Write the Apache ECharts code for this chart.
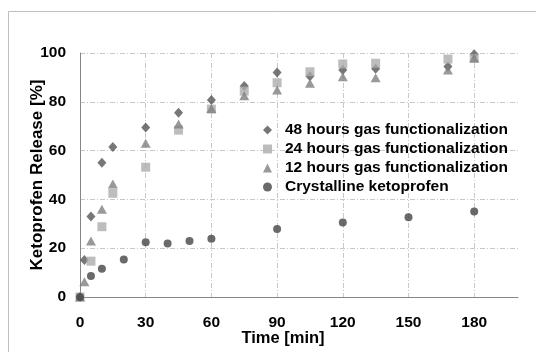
<!DOCTYPE html>
<html>
<head>
<meta charset="utf-8">
<script src="https://cdn.jsdelivr.net/npm/echarts@6/dist/echarts.min.js"></script>
<style>
  html, body { margin: 0; padding: 0; background: #fff; }
  #chart { width: 536px; height: 352px; }
</style>
</head>
<body>
<div id="chart"></div>
<script>
// sampling times [min] and release [%]
const t48 = [0, 2, 5, 10, 15, 30, 45, 60, 75, 90, 105, 120, 135, 168, 180];
const v48 = [0, 15.2, 33, 55, 61.5, 69.5, 75.5, 80.7, 86.5, 92, 90.5, 93, 93.5, 94.5, 99.5];

const t24 = [0, 5, 10, 15, 30, 45, 60, 75, 90, 105, 120, 135, 168, 180];
const v24 = [0, 14.7, 28.8, 42.5, 53.2, 68.4, 77, 84.4, 87.8, 92.3, 95.5, 95.8, 97.5, 97.8];

const t12 = [0, 2, 5, 10, 15, 30, 45, 60, 75, 90, 105, 120, 135, 168, 180];
const v12 = [0, 6.3, 23, 36, 46.3, 63, 70.9, 77.3, 82.5, 84.8, 87.6, 90.3, 89.9, 93, 98];

const tCr = [0, 5, 10, 20, 30, 40, 50, 60, 90, 120, 150, 180];
const vCr = [0, 8.6, 11.6, 15.4, 22.4, 21.9, 23, 23.9, 27.9, 30.5, 32.7, 35];

const seriesNames = [
  '48 hours gas functionalization',
  '24 hours gas functionalization',
  '12 hours gas functionalization',
  'Crystalline ketoprofen'
];

const pairs = (xs, ys) => xs.map((x, i) => [x, ys[i]]);

const chart = echarts.init(document.getElementById('chart'));

const gridLine = { color: '#c8c8c8', width: 1, type: [5, 2, 1, 2] };
const labelFont = { color: '#000', fontWeight: 'bold', fontSize: 15.5, fontFamily: 'Liberation Sans, Arial' };

chart.setOption({
  animation: false,
  grid: { left: 80, right: 18, top: 53, bottom: 55, containLabel: false },
  graphic: [
    { type: 'line', shape: { x1: 8.5, y1: 11.5, x2: 536, y2: 11.5 }, style: { stroke: '#bfbfbf', lineWidth: 1 } },
    { type: 'line', shape: { x1: 8.5, y1: 11.5, x2: 8.5, y2: 352 }, style: { stroke: '#bfbfbf', lineWidth: 1 } }
  ],
  legend: {
    orient: 'vertical',
    left: 263,
    top: 122,
    padding: 0,
    itemGap: 3,
    itemWidth: 9,
    itemHeight: 9,
    textStyle: { color: '#000', fontWeight: 'bold', fontSize: 15.5, fontFamily: 'Liberation Sans, Arial', padding: [0, 0, 0, 8] },
    data: seriesNames
  },
  xAxis: {
    type: 'value',
    min: 0,
    max: 200,
    interval: 30,
    name: 'Time [min]',
    nameLocation: 'middle',
    nameGap: 33,
    nameMoveOverlap: false,
    nameTextStyle: { color: '#000', fontWeight: 'bold', fontSize: 16.5, fontFamily: 'Liberation Sans, Arial', padding: [0, 32, 0, 0] },
    axisLine: { lineStyle: { color: '#868686', width: 1 } },
    axisTick: { show: false },
    axisLabel: Object.assign({ margin: 18, showMaxLabel: false }, labelFont),
    splitLine: { show: true, showMinLine: false, showMaxLine: false, lineStyle: gridLine }
  },
  yAxis: {
    type: 'value',
    min: 0,
    max: 100,
    interval: 20,
    name: 'Ketoprofen Release [%]',
    nameLocation: 'middle',
    nameGap: 34,
    nameMoveOverlap: false,
    nameTextStyle: { color: '#000', fontWeight: 'bold', fontSize: 17, fontFamily: 'Liberation Sans, Arial' },
    axisLine: { show: true, lineStyle: { color: '#868686', width: 1 } },
    axisTick: { show: false },
    axisLabel: Object.assign({ margin: 14, verticalAlignMinLabel: 'middle', verticalAlignMaxLabel: 'middle' }, labelFont),
    splitLine: { show: true, showMinLine: false, lineStyle: gridLine }
  },
  series: [
    { name: seriesNames[0], type: 'scatter', symbol: 'diamond', symbolSize: [9, 10],
      itemStyle: { color: '#555555' }, data: pairs(t48, v48) },
    { name: seriesNames[1], type: 'scatter', symbol: 'rect', symbolSize: 9,
      itemStyle: { color: '#adadad' }, data: pairs(t24, v24) },
    { name: seriesNames[2], type: 'scatter', symbol: 'triangle', symbolSize: [10, 9],
      itemStyle: { color: '#808080' }, data: pairs(t12, v12) },
    { name: seriesNames[3], type: 'scatter', symbol: 'circle', symbolSize: 8,
      itemStyle: { color: '#454545' }, data: pairs(tCr, vCr) }
  ]
});
</script>
</body>
</html>
